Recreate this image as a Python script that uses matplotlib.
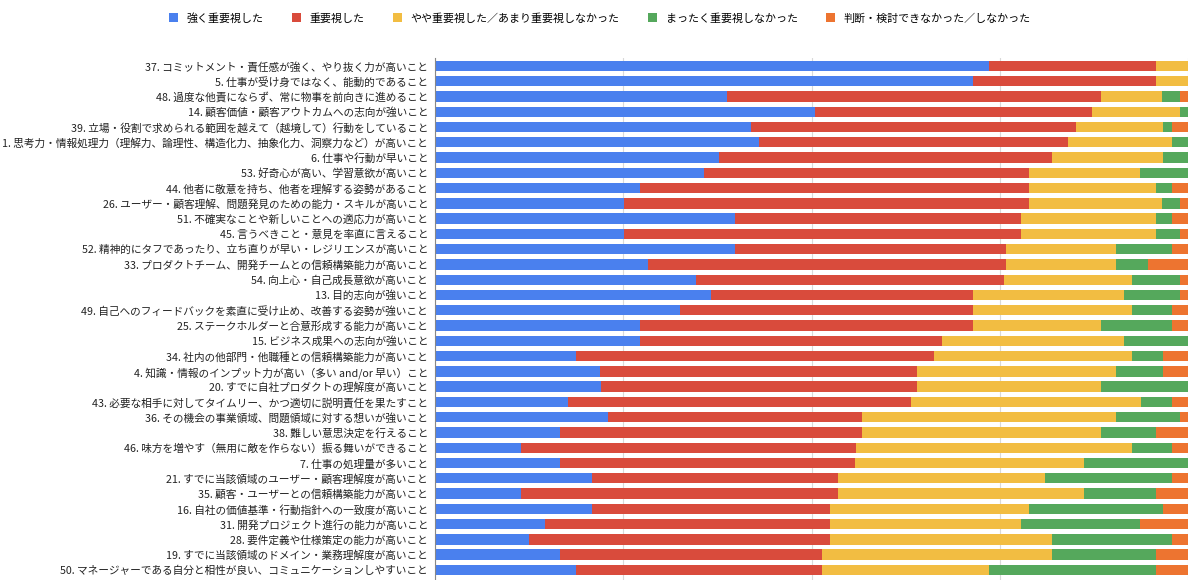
import matplotlib.pyplot as plt
import numpy as np

plt.rcParams["font.family"] = ["Noto Sans CJK JP", "DejaVu Sans"]

labels = [
    "37. コミットメント・責任感が強く、やり抜く力が高いこと",
    "5. 仕事が受け身ではなく、能動的であること",
    "48. 過度な他責にならず、常に物事を前向きに進めること",
    "14. 顧客価値・顧客アウトカムへの志向が強いこと",
    "39. 立場・役割で求められる範囲を越えて（越境して）行動をしていること",
    "1. 思考力・情報処理力（理解力、論理性、構造化力、抽象化力、洞察力など）が高いこと",
    "6. 仕事や行動が早いこと",
    "53. 好奇心が高い、学習意欲が高いこと",
    "44. 他者に敬意を持ち、他者を理解する姿勢があること",
    "26. ユーザー・顧客理解、問題発見のための能力・スキルが高いこと",
    "51. 不確実なことや新しいことへの適応力が高いこと",
    "45. 言うべきこと・意見を率直に言えること",
    "52. 精神的にタフであったり、立ち直りが早い・レジリエンスが高いこと",
    "33. プロダクトチーム、開発チームとの信頼構築能力が高いこと",
    "54. 向上心・自己成長意欲が高いこと",
    "13. 目的志向が強いこと",
    "49. 自己へのフィードバックを素直に受け止め、改善する姿勢が強いこと",
    "25. ステークホルダーと合意形成する能力が高いこと",
    "15. ビジネス成果への志向が強いこと",
    "34. 社内の他部門・他職種との信頼構築能力が高いこと",
    "4. 知識・情報のインプット力が高い（多い and/or 早い）こと",
    "20. すでに自社プロダクトの理解度が高いこと",
    "43. 必要な相手に対してタイムリー、かつ適切に説明責任を果たすこと",
    "36. その機会の事業領域、問題領域に対する想いが強いこと",
    "38. 難しい意思決定を行えること",
    "46. 味方を増やす（無用に敵を作らない）振る舞いができること",
    "7. 仕事の処理量が多いこと",
    "21. すでに当該領域のユーザー・顧客理解度が高いこと",
    "35. 顧客・ユーザーとの信頼構築能力が高いこと",
    "16. 自社の価値基準・行動指針への一致度が高いこと",
    "31. 開発プロジェクト進行の能力が高いこと",
    "28. 要件定義や仕様策定の能力が高いこと",
    "19. すでに当該領域のドメイン・業務理解度が高いこと",
    "50. マネージャーである自分と相性が良い、コミュニケーションしやすいこと",
]

series_names = ["強く重要視した", "重要視した", "やや重要視した／あまり重要視しなかった",
                "まったく重要視しなかった", "判断・検討できなかった／しなかった"]
colors = ["#4a80ee", "#d94b3c", "#f2bd42", "#55a85c", "#ed7430"]

strong = [73.6, 71.4, 38.8, 50.5, 42.0, 43.0, 37.7, 35.7, 27.2, 25.1, 39.8, 25.1,
          39.8, 28.3, 34.7, 36.7, 32.5, 27.2, 27.2, 18.7, 21.9, 22.0, 17.7, 23.0,
          16.6, 11.4, 16.6, 20.9, 11.4, 20.9, 14.6, 12.5, 16.6, 18.7]
important = [22.2, 24.3, 49.7, 36.8, 43.2, 41.0, 44.2, 43.2, 51.7, 53.8, 38.0, 52.7,
             35.9, 47.4, 41.0, 34.8, 38.9, 44.2, 40.1, 47.5, 42.1, 42.0, 45.4, 33.7,
             40.1, 44.6, 39.2, 32.7, 42.1, 31.6, 37.8, 40.0, 34.8, 32.7]
somewhat = [4.2, 4.2, 8.2, 11.7, 11.6, 13.8, 14.7, 14.7, 16.9, 17.8, 17.9, 17.9,
            14.7, 14.7, 16.9, 20.1, 21.1, 17.0, 24.2, 26.3, 26.4, 24.4, 30.5, 33.7,
            31.7, 36.8, 30.4, 27.5, 32.7, 26.4, 25.4, 29.5, 30.5, 22.2]
not_at_all = [0, 0, 2.3, 1.1, 1.2, 2.1, 3.3, 6.4, 2.1, 2.3, 2.1, 3.2,
              7.4, 4.2, 6.4, 7.4, 5.3, 9.4, 8.5, 4.1, 6.2, 11.6, 4.2, 8.5,
              7.3, 5.3, 13.8, 16.9, 9.6, 17.8, 15.8, 15.9, 13.8, 22.2]
unknown = [0, 0, 1.1, 0, 2.1, 0, 0, 0, 2.1, 1.1, 2.1, 1.1,
           2.1, 5.3, 1.1, 1.1, 2.1, 2.1, 0, 3.3, 3.3, 0, 2.1, 1.1,
           4.2, 2.1, 0, 2.1, 4.2, 3.3, 6.4, 2.1, 4.2, 4.2]

data = np.array([strong, important, somewhat, not_at_all, unknown])
data = data / data.sum(axis=0) * 100

fig = plt.figure(figsize=(12, 5.8), dpi=100)
ax = fig.add_axes([0.3625, 0.0, 0.6275, 0.9])
y = np.arange(len(labels))
left = np.zeros(len(labels))
for vals, name, c in zip(data, series_names, colors):
    ax.barh(y, vals, left=left, height=0.68, color=c, label=name, zorder=2)
    left += vals

ax.set_xlim(0, 100)
ax.set_ylim(33.66, -0.52)
ax.set_yticks(y)
ax.set_yticklabels(labels, fontsize=7.7, color="#222222")
ax.tick_params(axis="y", length=0, pad=5)
ax.tick_params(axis="x", length=0, labelbottom=False)
ax.set_xticks([0, 25, 50, 75, 100])
ax.grid(axis="x", color="#d9d9d9", lw=0.8, zorder=0)
for s in ["top", "right", "bottom"]:
    ax.spines[s].set_visible(False)
ax.spines["left"].set_color("#888888")

fig.legend(loc="upper center", bbox_to_anchor=(0.5, 0.995), ncol=5, frameon=False,
           fontsize=7.9, handlelength=0.8, handleheight=0.8, columnspacing=2.6)

fig.savefig("out.png")
